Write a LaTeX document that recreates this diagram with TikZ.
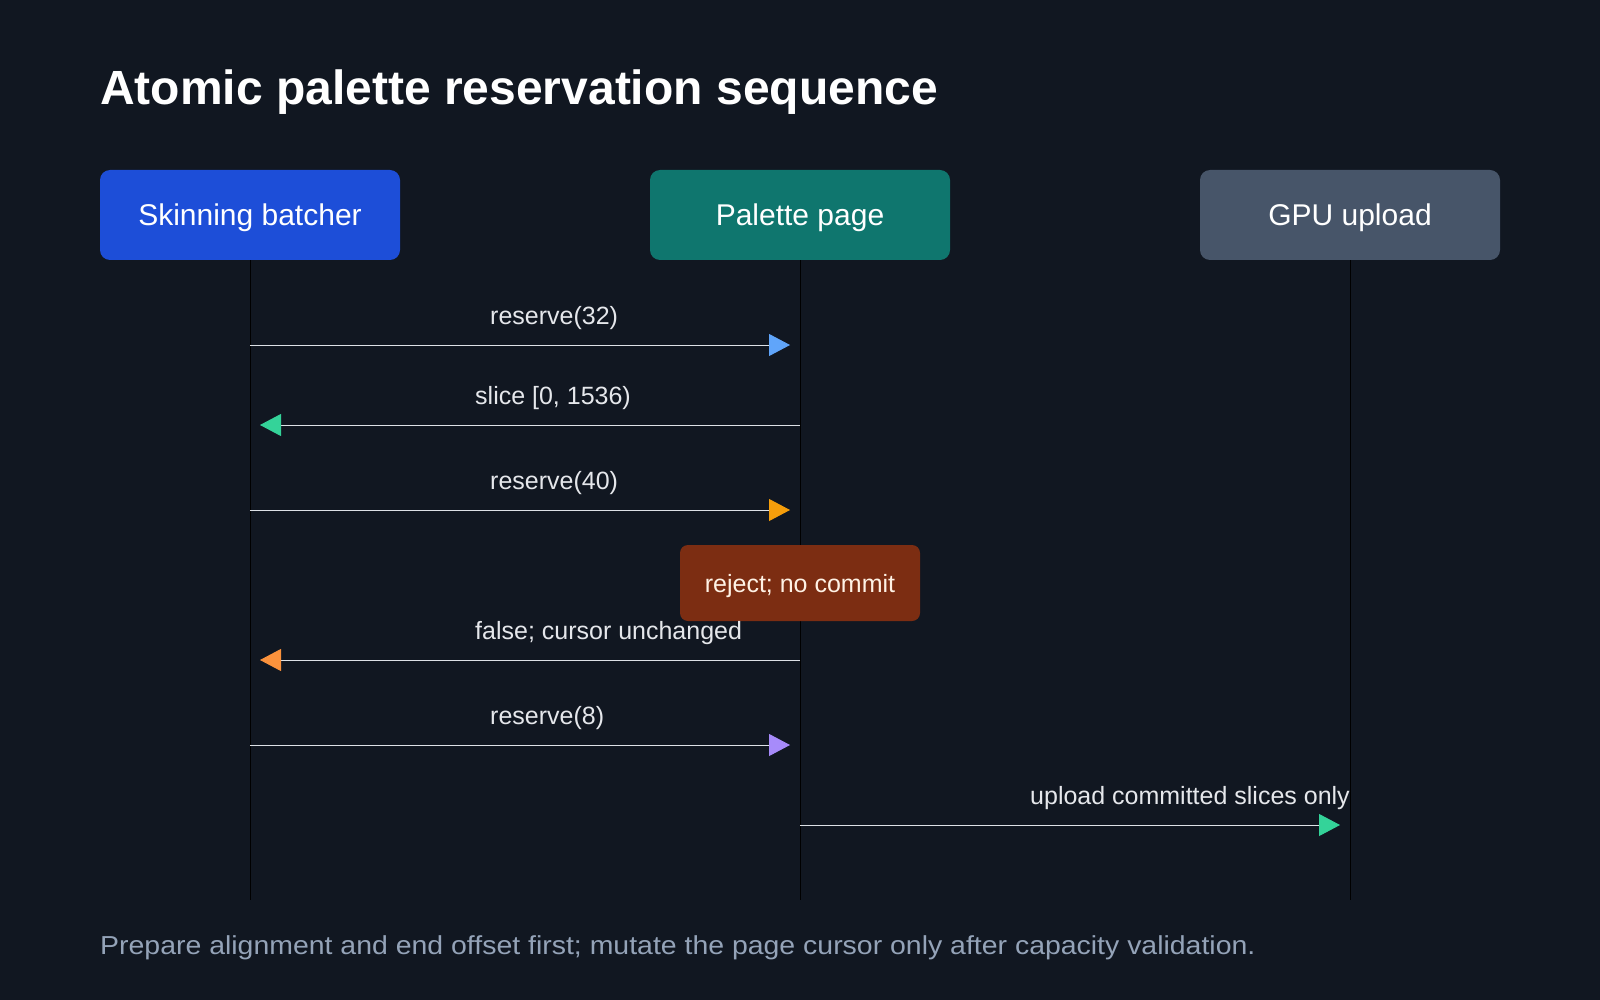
\documentclass[tikz,border=0pt]{standalone}
\usepackage{fontspec}
\setmainfont{Liberation Sans}
\newfontfamily\footfont[FakeStretch=1.094]{Liberation Sans}
\usetikzlibrary{arrows.meta}
\definecolor{bgc}{HTML}{111721}
\definecolor{batc}{HTML}{1D4ED8}
\definecolor{pagec}{HTML}{0F766E}
\definecolor{gpuc}{HTML}{475569}
\definecolor{rejc}{HTML}{7C2D12}
\definecolor{linec}{HTML}{DDE1E6}
\definecolor{lblc}{HTML}{E5E7EB}
\definecolor{footc}{HTML}{94A3B8}
\definecolor{arblue}{HTML}{60A5FA}
\definecolor{argreen}{HTML}{34D399}
\definecolor{aramber}{HTML}{F59E0B}
\definecolor{arorange}{HTML}{FB923C}
\definecolor{arpurple}{HTML}{A78BFA}
\begin{document}
\begin{tikzpicture}[x=1pt,y=-1pt,line join=round,
	actor/.style={rounded corners=10pt,minimum width=300pt,minimum height=90pt,inner sep=0pt,text=white,font=\fontsize{30}{36}\selectfont,text height=21.5pt,text depth=0pt},
	life/.style={draw=black,line width=1pt},
	msg/.style={draw=linec,line width=1pt,shorten >=10pt,-{Triangle[length=21pt,width=22pt,color=#1]}},
	lbl/.style={anchor=base west,inner sep=0pt,text=lblc,font=\fontsize{25}{30}\selectfont}]
	\fill[bgc] (0,0) rectangle (1600,1000);
	\useasboundingbox (0,0) rectangle (1600,1000);
	% actors
	\node[anchor=base west,inner sep=0pt,text=white,font=\bfseries\fontsize{48}{56}\selectfont] (title) at (100,105) {Atomic palette reservation sequence};
	\node[actor,fill=batc] (bat) at (250,215) {Skinning batcher};
	\node[actor,fill=pagec] (page) at (800,215) {Palette page};
	\node[actor,fill=gpuc] (gpu) at (1350,215) {GPU upload};
	\path
	(250,900) coordinate (batE)
	(800,900) coordinate (pageE)
	(1350,900) coordinate (gpuE);
	\foreach \n/\y in {1/345,2/425,3/510,4/660,5/745,6/825}
		\path (250,\y) coordinate (b\n) (800,\y) coordinate (p\n) (1350,\y) coordinate (g\n);
	\draw[life] (bat.south)--(batE);
	\draw[life] (page.south)--(pageE);
	\draw[life] (gpu.south)--(gpuE);
	% messages
	\draw[msg=arblue] (b1)--(p1);
	\node[lbl] (l1) at (490,324) {reserve(32)};
	\draw[msg=argreen] (p2)--(b2);
	\node[lbl] (l2) at (475,404) {slice [0, 1536)};
	\draw[msg=aramber] (b3)--(p3);
	\node[lbl] (l3) at (490,489) {reserve(40)};
	\node[rounded corners=8pt,fill=rejc,minimum width=240pt,minimum height=76pt,inner sep=0pt,text=orange!10,font=\fontsize{25}{30}\selectfont,text height=18pt,text depth=0pt] (rej) at (800,583) {reject; no commit};
	\draw[msg=arorange] (p4)--(b4);
	\node[lbl] (l4) at (475,639) {false; cursor unchanged};
	\draw[msg=arpurple] (b5)--(p5);
	\node[lbl] (l5) at (490,724) {reserve(8)};
	\draw[msg=argreen] (p6)--(g6);
	\node[lbl] (l6) at (1030,804) {upload committed slices only};
	\node[anchor=base west,inner sep=0pt,text=footc,font=\footfont\fontsize{26}{32}\selectfont] (foot) at (100,954) {Prepare alignment and end offset first; mutate the page cursor only after capacity validation.};
\end{tikzpicture}
\end{document}
